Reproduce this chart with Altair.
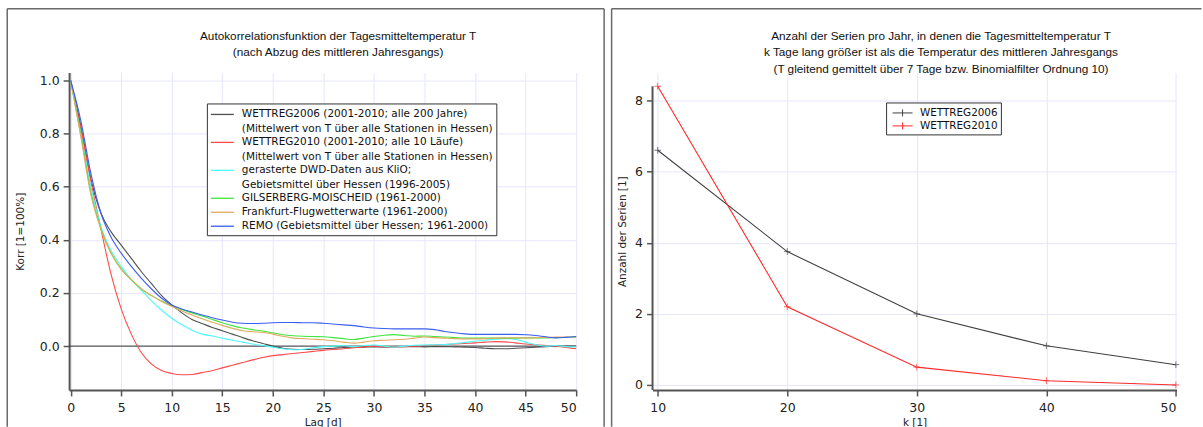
import altair as alt
import pandas as pd

# ---------------- data: left panel (autocorrelation) ----------------
LAGS = list(range(51))

SERIES_LEFT = [
    "WETTREG2006 (2001-2010; alle 200 Jahre)|(Mittelwert von T über alle Stationen in Hessen)",
    "WETTREG2010 (2001-2010; alle 10 Läufe)|(Mittelwert von T über alle Stationen in Hessen)",
    "gerasterte DWD-Daten aus KliO;|Gebietsmittel über Hessen (1996-2005)",
    "GILSERBERG-MOISCHEID (1961-2000)",
    "Frankfurt-Flugwetterwarte (1961-2000)",
    "REMO (Gebietsmittel über Hessen; 1961-2000)",
]
COLORS_LEFT = ["#505050", "#ff4a4a", "#4dfafa", "#3ee63e", "#e0aa60", "#3a5ef0"]

ACF_WETTREG2006 = [1.0, 0.83, 0.63, 0.50, 0.43, 0.38, 0.33, 0.28, 0.235, 0.19,
                   0.155, 0.125, 0.10, 0.085, 0.07, 0.058, 0.045, 0.032, 0.02, 0.01,
                   0.0, -0.008, -0.012, -0.013, -0.012, -0.01, -0.008, -0.005, -0.004, -0.004,
                   -0.003, -0.004, -0.003, -0.002, -0.002, -0.003, -0.002, -0.002, -0.003, -0.004,
                   -0.005, -0.008, -0.01, -0.01, -0.008, -0.006, -0.004, -0.002, 0.0, 0.0, 0.0]
ACF_WETTREG2010 = [1.0, 0.82, 0.62, 0.44, 0.27, 0.14, 0.045, -0.025, -0.068, -0.092,
                   -0.103, -0.108, -0.107, -0.10, -0.093, -0.082, -0.072, -0.062, -0.052, -0.043,
                   -0.036, -0.032, -0.028, -0.024, -0.02, -0.016, -0.013, -0.01, -0.006, -0.003,
                   0.0, -0.002, -0.003, -0.002, 0.0, 0.002, 0.004, 0.006, 0.008, 0.01,
                   0.012, 0.015, 0.017, 0.016, 0.012, 0.008, 0.005, 0.002, 0.0, -0.005, -0.01]
ACF_DWD = [1.0, 0.80, 0.60, 0.45, 0.36, 0.30, 0.25, 0.21, 0.17, 0.135,
           0.105, 0.08, 0.06, 0.045, 0.038, 0.03, 0.022, 0.015, 0.008, 0.002,
           -0.004, -0.01, -0.014, -0.012, -0.006, -0.002, 0.0, 0.002, -0.002, 0.002,
           0.004, 0.0, -0.004, 0.0, 0.003, 0.004, 0.005, 0.006, 0.01, 0.014,
           0.018, 0.022, 0.026, 0.028, 0.025, 0.015, 0.005, 0.0, 0.002, -0.002, -0.003]
ACF_GILSERBERG = [1.0, 0.80, 0.58, 0.44, 0.35, 0.29, 0.25, 0.215, 0.19, 0.17,
                  0.152, 0.138, 0.125, 0.113, 0.10, 0.088, 0.077, 0.068, 0.062, 0.057,
                  0.05, 0.043, 0.039, 0.037, 0.036, 0.035, 0.032, 0.028, 0.025, 0.03,
                  0.036, 0.041, 0.043, 0.04, 0.037, 0.038, 0.036, 0.034, 0.032, 0.03,
                  0.03, 0.03, 0.03, 0.03, 0.03, 0.031, 0.031, 0.031, 0.032, 0.033, 0.034]
ACF_FRANKFURT = [1.0, 0.79, 0.57, 0.44, 0.35, 0.29, 0.25, 0.215, 0.19, 0.168,
                 0.15, 0.132, 0.117, 0.103, 0.09, 0.078, 0.067, 0.058, 0.054, 0.052,
                 0.045, 0.037, 0.03, 0.028, 0.026, 0.024, 0.02, 0.015, 0.011, 0.015,
                 0.02, 0.022, 0.024, 0.026, 0.03, 0.034, 0.032, 0.03, 0.028, 0.027,
                 0.027, 0.028, 0.03, 0.031, 0.031, 0.031, 0.032, 0.033, 0.034, 0.034, 0.034]
ACF_REMO = [1.0, 0.85, 0.65, 0.50, 0.41, 0.35, 0.30, 0.255, 0.215, 0.18,
            0.155, 0.14, 0.128, 0.117, 0.107, 0.098, 0.09, 0.086, 0.085, 0.086,
            0.088, 0.089, 0.089, 0.088, 0.088, 0.086, 0.083, 0.08, 0.077, 0.072,
            0.068, 0.066, 0.065, 0.065, 0.065, 0.065, 0.062, 0.055, 0.05, 0.046,
            0.044, 0.044, 0.044, 0.044, 0.044, 0.043, 0.04, 0.035, 0.031, 0.033, 0.036]
ACF_ALL = [ACF_WETTREG2006, ACF_WETTREG2010, ACF_DWD, ACF_GILSERBERG, ACF_FRANKFURT, ACF_REMO]
ZERO_LINE = [0.0]

LEFT_X_TICKS = [0, 5, 10, 15, 20, 25, 30, 35, 40, 45, 50]
LEFT_Y_TICKS = [0.0, 0.2, 0.4, 0.6, 0.8, 1.0]

# ---------------- data: right panel (series count) ----------------
SERIES_RIGHT = ["WETTREG2006", "WETTREG2010"]
COLORS_RIGHT = ["#404040", "#ff2a2a"]
K_VALUES = [10, 20, 30, 40, 50]
COUNT_WETTREG2006 = [6.6, 3.75, 2.0, 1.1, 0.57]
COUNT_WETTREG2010 = [8.4, 2.2, 0.5, 0.12, 0.0]
RIGHT_Y_TICKS = [0, 2, 4, 6, 8]

TITLE_LEFT = ["Autokorrelationsfunktion der Tagesmitteltemperatur T",
              "(nach Abzug des mittleren Jahresgangs)"]
TITLE_RIGHT = ["Anzahl der Serien pro Jahr, in denen die Tagesmitteltemperatur T",
               "k Tage lang größer ist als die Temperatur des mittleren Jahresgangs",
               "(T gleitend gemittelt über 7 Tage bzw. Binomialfilter Ordnung 10)"]

# ---------------- tables ----------------
rows = []
for name, vals in zip(SERIES_LEFT, ACF_ALL):
    for lag, v in zip(LAGS, vals):
        rows.append({"serie": name, "lag": lag, "korr": v})
df_left = pd.DataFrame(rows)

rows = []
for name, vals in zip(SERIES_RIGHT, [COUNT_WETTREG2006, COUNT_WETTREG2010]):
    for k, v in zip(K_VALUES, vals):
        rows.append({"serie": name, "k": k, "anzahl": v})
df_right = pd.DataFrame(rows)

one = pd.DataFrame({"d": [0]})

FRAME = "#6a6a6a"
AXIS = "#555555"
GRID = "#e6e6fa"
TICK_FONT = "DejaVu Sans"
TITLE_FONT = "Liberation Sans"


def frame_rule(**enc):
    return alt.Chart(one).mark_rule(color=FRAME, strokeWidth=1.5).encode(**enc)


def title_text(lines, x, y):
    return alt.Chart(one).mark_text(
        text=lines, font=TITLE_FONT, fontSize=11.8, color="#111111",
        align="center", baseline="middle", lineHeight=16.5,
    ).encode(x=alt.value(x), y=alt.value(y))


# ---------------- left chart ----------------
x_left = alt.X("lag:Q", scale=alt.Scale(domain=[-0.15, 50], nice=False, zero=False),
               axis=alt.Axis(values=LEFT_X_TICKS, title="Lag [d]", grid=True,
                             labelPadding=6, titlePadding=3))
y_left = alt.Y("korr:Q", scale=alt.Scale(domain=[-0.165, 1.03], nice=False, zero=False),
               axis=alt.Axis(values=LEFT_Y_TICKS, format=".1f", title="Korr [1=100%]",
                             grid=True, labelPadding=4, titlePadding=14))

lines_left = alt.Chart(df_left).mark_line(strokeWidth=1.1, interpolate="monotone").encode(
    x=x_left,
    y=y_left,
    color=alt.Color("serie:N",
                    scale=alt.Scale(domain=SERIES_LEFT, range=COLORS_LEFT),
                    sort=SERIES_LEFT,
                    legend=alt.Legend(
                        title=None, orient="none", legendX=138, legendY=31,
                        fillColor="white", strokeColor="#333333", padding=3,
                        symbolType="M-1,0H2.29", symbolSize=196, symbolStrokeWidth=1.3,
                        labelFont=TICK_FONT, labelFontSize=10.5, labelColor="#111111",
                        labelLimit=600, labelOffset=16, rowPadding=0,
                        labelExpr="split(datum.label, '|')")),
    order=alt.Order("serie:N"),
)

zero_rule = alt.Chart(pd.DataFrame({"y": ZERO_LINE})).mark_rule(
    color="#333333", strokeWidth=1).encode(y="y:Q")

left = alt.layer(
    frame_rule(x=alt.value(-62), x2=alt.value(536), y=alt.value(-64)),
    frame_rule(x=alt.value(-62), y=alt.value(-64), y2=alt.value(355)),
    frame_rule(x=alt.value(536), y=alt.value(-64), y2=alt.value(355)),
    title_text(TITLE_LEFT, 269.5, -37),
    zero_rule,
    lines_left,
).properties(width=508, height=318)

# ---------------- right chart ----------------
y_top = max(COUNT_WETTREG2010)
x_right = alt.X("k:Q", scale=alt.Scale(domain=[9.6, 50.05], nice=False, zero=False),
                axis=alt.Axis(values=K_VALUES, title="k [1]", grid=True,
                              labelPadding=6, titlePadding=3))
y_right = alt.Y("anzahl:Q", scale=alt.Scale(domain=[-0.14, 8.786], nice=False, zero=False),
                axis=alt.Axis(values=RIGHT_Y_TICKS, title="Anzahl der Serien [1]", grid=True,
                              domain=False, labelPadding=4, titlePadding=7))

color_right = alt.Scale(domain=SERIES_RIGHT, range=COLORS_RIGHT)

lines_right = alt.Chart(df_right).mark_line(strokeWidth=1.1).encode(
    x=x_right, y=y_right,
    color=alt.Color("serie:N", scale=color_right, sort=SERIES_RIGHT,
                    legend=alt.Legend(
                        title=None, orient="none", legendX=234, legendY=30,
                        fillColor="white", strokeColor="#333333", padding=3,
                        symbolType="M-0.57,0H2.29M0.86,-0.5V0.5", symbolSize=196,
                        symbolStrokeWidth=1, labelFont=TICK_FONT, labelFontSize=10.4,
                        labelColor="#111111", labelOffset=16, rowPadding=0)),
)
points_right = alt.Chart(df_right).mark_point(
    shape="M-1,0H1M0,-1V1", size=45, filled=False, strokeWidth=1).encode(
    x=x_right, y=y_right,
    color=alt.Color("serie:N", scale=color_right, sort=SERIES_RIGHT, legend=None),
)
y_axis_line = alt.Chart(one).mark_rule(color=AXIS, strokeWidth=2).encode(
    x=alt.value(0), y=alt.datum(y_top), y2=alt.value(318))

right = alt.layer(
    frame_rule(x=alt.value(-41), x2=alt.value(550), y=alt.value(-64)),
    frame_rule(x=alt.value(-41), y=alt.value(-64), y2=alt.value(355)),
    title_text(TITLE_RIGHT, 289, -37),
    y_axis_line,
    lines_right,
    points_right,
).properties(width=525, height=318)

chart = alt.hconcat(left, right, spacing=5.5).resolve_scale(
    color="independent", x="independent", y="independent"
).properties(
    padding={"left": 6.25, "top": 7.25, "right": 0, "bottom": 0},
    background="white",
).configure(
    view=alt.ViewConfig(stroke=None),
    axis=alt.AxisConfig(
        domainColor=AXIS, domainWidth=2, tickColor=AXIS, tickWidth=1.5, tickSize=6,
        labelFont=TICK_FONT, labelFontSize=12.5, labelColor="#222222",
        titleFont=TICK_FONT, titleFontSize=10.5, titleFontWeight="normal", titleColor="#222222",
        gridColor=GRID, gridWidth=1,
    ),
    style={"guide-label": {"lineHeight": 14.5}},
)

chart.save("out.html", embed_options={"renderer": "svg", "actions": False})
